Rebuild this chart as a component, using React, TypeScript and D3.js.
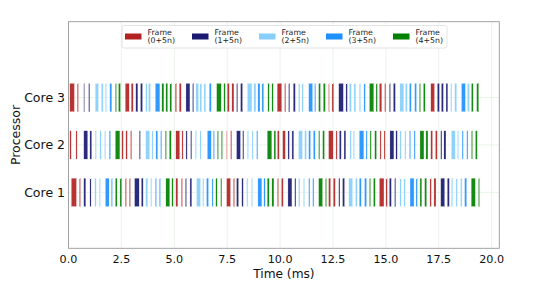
import * as d3 from 'd3';

// [start ms, end ms, frame mod 5]
const core1: [number, number, number][] = [
  [0.13, 0.38, 0], [0.51, 0.57, 0], [0.72, 0.82, 1], [1.01, 1.07, 1], [1.24, 1.31, 2], [1.45, 1.51, 2],
  [1.74, 1.92, 3], [2.02, 2.08, 3], [2.21, 2.3, 4], [2.43, 2.52, 4], [2.68, 2.74, 0], [2.87, 2.93, 0],
  [3.12, 3.34, 1], [3.44, 3.53, 1], [3.65, 3.75, 2], [3.88, 3.94, 2], [4.1, 4.16, 3], [4.29, 4.35, 3],
  [4.6, 4.79, 4], [4.88, 4.95, 4], [5.07, 5.17, 0], [5.33, 5.39, 0], [5.52, 5.58, 1], [5.74, 5.83, 1],
  [6.05, 6.24, 2], [6.34, 6.4, 2], [6.52, 6.62, 3], [6.78, 6.84, 3], [6.96, 7.03, 4], [7.19, 7.25, 4],
  [7.47, 7.66, 0], [7.79, 7.85, 0], [7.94, 8.04, 1], [8.19, 8.26, 1], [8.42, 8.48, 2], [8.64, 8.7, 2],
  [8.95, 9.14, 3], [9.23, 9.3, 3], [9.39, 9.49, 4], [9.61, 9.71, 4], [9.87, 9.93, 0], [10.06, 10.15, 0],
  [10.37, 10.56, 1], [10.69, 10.75, 1], [10.87, 10.94, 2], [11.1, 11.16, 2], [11.35, 11.41, 3], [11.54, 11.6, 3],
  [11.82, 12.01, 4], [12.14, 12.2, 4], [12.29, 12.39, 0], [12.51, 12.61, 0], [12.77, 12.83, 1], [12.95, 13.05, 1],
  [13.24, 13.43, 2], [13.56, 13.65, 2], [13.74, 13.84, 3], [13.99, 14.09, 3], [14.22, 14.28, 4], [14.41, 14.5, 4],
  [14.69, 14.91, 0], [15.0, 15.07, 0], [15.16, 15.26, 1], [15.41, 15.47, 1], [15.66, 15.73, 2], [15.85, 15.92, 2],
  [16.14, 16.33, 3], [16.42, 16.49, 3], [16.61, 16.7, 4], [16.83, 16.93, 4], [17.08, 17.15, 0], [17.27, 17.37, 0],
  [17.59, 17.78, 1], [17.9, 18.0, 1], [18.09, 18.16, 2], [18.31, 18.38, 2], [18.53, 18.6, 2], [18.72, 18.82, 3],
  [19.03, 19.23, 4], [19.37, 19.43, 4],
];

const core2: [number, number, number][] = [
  [0.06, 0.13, 0], [0.35, 0.41, 0], [0.72, 0.91, 1], [1.01, 1.1, 1], [1.26, 1.32, 2], [1.48, 1.55, 2],
  [1.7, 1.76, 2], [1.92, 1.99, 3], [2.21, 2.43, 4], [2.52, 2.59, 0], [2.71, 2.78, 0], [2.93, 2.99, 0],
  [3.34, 3.4, 1], [3.65, 3.84, 2], [3.94, 4.0, 2], [4.13, 4.22, 3], [4.35, 4.41, 3], [4.57, 4.63, 4],
  [4.76, 4.86, 4], [5.07, 5.26, 0], [5.36, 5.42, 0], [5.55, 5.61, 1], [5.77, 5.83, 1], [5.99, 6.05, 2],
  [6.21, 6.27, 2], [6.56, 6.75, 3], [6.84, 6.9, 3], [7.03, 7.09, 4], [7.22, 7.28, 4], [7.47, 7.5, 0],
  [7.66, 7.72, 0], [7.94, 8.13, 1], [8.23, 8.29, 1], [8.45, 8.51, 2], [8.67, 8.73, 2], [8.89, 8.95, 3],
  [9.39, 9.61, 4], [9.71, 9.8, 4], [9.87, 9.96, 0], [10.12, 10.25, 0], [10.37, 10.44, 1], [10.56, 10.65, 1],
  [10.87, 11.06, 2], [11.16, 11.25, 2], [11.35, 11.44, 3], [11.57, 11.66, 3], [11.82, 11.88, 4], [12.01, 12.1, 4],
  [12.29, 12.51, 0], [12.64, 12.7, 0], [12.8, 12.89, 1], [13.02, 13.11, 1], [13.3, 13.37, 2], [13.46, 13.52, 2],
  [13.74, 13.96, 3], [14.06, 14.12, 3], [14.25, 14.31, 4], [14.47, 14.56, 4], [14.72, 14.78, 0], [14.91, 14.97, 0],
  [15.19, 15.38, 1], [15.47, 15.54, 1], [15.66, 15.73, 2], [15.89, 15.95, 2], [16.11, 16.17, 3], [16.33, 16.39, 3],
  [16.61, 16.8, 4], [16.89, 16.99, 4], [17.12, 17.21, 0], [17.34, 17.43, 0], [17.59, 17.65, 1], [17.74, 17.84, 1],
  [18.09, 18.28, 2], [18.38, 18.44, 2], [18.6, 18.66, 3], [18.82, 18.88, 3], [19.04, 19.1, 4], [19.23, 19.32, 4],
];

const core3: [number, number, number][] = [
  [0.06, 0.28, 0], [0.41, 0.47, 0], [0.72, 0.76, 1], [0.95, 1.01, 1], [1.26, 1.42, 2], [1.55, 1.64, 2],
  [1.74, 1.8, 2], [1.95, 2.05, 3], [2.21, 2.27, 4], [2.36, 2.46, 4], [2.68, 2.87, 0], [2.96, 3.06, 0],
  [3.18, 3.28, 1], [3.4, 3.5, 1], [3.65, 3.72, 2], [3.78, 3.88, 2], [4.1, 4.32, 3], [4.41, 4.51, 4],
  [4.6, 4.69, 4], [4.79, 4.88, 4], [5.04, 5.11, 0], [5.23, 5.33, 0], [5.55, 5.74, 1], [5.86, 5.92, 1],
  [6.02, 6.15, 2], [6.21, 6.3, 2], [6.4, 6.49, 2], [6.65, 6.75, 3], [7.0, 7.22, 4], [7.34, 7.41, 4],
  [7.5, 7.6, 0], [7.72, 7.82, 0], [7.94, 8.0, 1], [8.13, 8.23, 1], [8.45, 8.67, 2], [8.76, 8.86, 2],
  [8.95, 9.05, 3], [9.14, 9.23, 3], [9.42, 9.49, 4], [9.61, 9.68, 4], [9.86, 10.08, 0], [10.21, 10.27, 0],
  [10.4, 10.46, 1], [10.62, 10.72, 1], [10.87, 10.94, 2], [11.03, 11.1, 2], [11.35, 11.54, 3], [11.63, 11.69, 3],
  [11.82, 11.91, 4], [12.04, 12.14, 4], [12.29, 12.33, 0], [12.45, 12.54, 0], [12.77, 12.99, 1], [13.11, 13.18, 1],
  [13.27, 13.37, 2], [13.49, 13.58, 2], [13.74, 13.81, 2], [13.96, 14.03, 3], [14.22, 14.43, 4], [14.53, 14.6, 4],
  [14.69, 14.81, 0], [14.94, 15.0, 0], [15.16, 15.22, 1], [15.35, 15.45, 1], [15.66, 15.85, 2], [15.92, 16.01, 2],
  [16.11, 16.2, 3], [16.36, 16.45, 3], [16.58, 16.64, 4], [16.77, 16.86, 4], [17.12, 17.3, 0], [17.43, 17.53, 1],
  [17.62, 17.72, 1], [17.84, 17.93, 1], [18.06, 18.12, 2], [18.25, 18.35, 2], [18.57, 18.76, 3], [18.85, 18.95, 2],
  [19.04, 19.13, 4], [19.29, 19.39, 4],
];

const cores = ['Core 1', 'Core 2', 'Core 3'];
const coreBars = [core1, core2, core3];
const frameLabels = ['(0+5n)', '(1+5n)', '(2+5n)', '(3+5n)', '(4+5n)'];
const frameColors = ['#b22222', '#191970', '#87cefa', '#1e90ff', '#008000'];
const xTicks = [0, 2.5, 5, 7.5, 10, 12.5, 15, 17.5, 20];

const W = 538;
const H = 282;
const m = { left: 68.5, right: 38.7, top: 21.7, bottom: 33.7 };
const font = 'DejaVu Sans, sans-serif';
const gridColor = '#e3f1e3';

export default function App() {
  const x = d3.scaleLinear().domain([0, 20.36]).range([m.left, W - m.right]);
  const y = d3.scaleLinear().domain([-0.18, 4.6]).range([H - m.bottom, m.top]);
  const barH = y(0) - y(0.6);
  const legX = 122;
  const legStep = 67;

  return (
    <svg width={W} height={H} style={{ position: 'absolute', left: 0, top: 0, fontFamily: font }}>
      <rect x={0} y={0} width={W} height={H} fill="white" />
      {xTicks.map((t) => (
        <line key={'gx' + t} x1={x(t)} x2={x(t)} y1={m.top} y2={H - m.bottom} stroke={gridColor} strokeWidth={0.8} />
      ))}
      {cores.map((c, i) => (
        <line key={'gy' + c} x1={m.left} x2={W - m.right} y1={y(i + 1)} y2={y(i + 1)} stroke={gridColor} strokeWidth={0.8} />
      ))}
      {coreBars.map((bars, i) =>
        bars.map((b, j) => (
          <rect
            key={i + '-' + j}
            x={x(b[0])}
            y={y(i + 1) - barH / 2}
            width={x(b[1]) - x(b[0])}
            height={barH}
            fill={frameColors[b[2]]}
            fillOpacity={0.92}
            stroke="white"
            strokeWidth={0.3}
          />
        ))
      )}
      <rect
        x={m.left}
        y={m.top}
        width={W - m.left - m.right}
        height={H - m.top - m.bottom}
        fill="none"
        stroke="#999"
        strokeWidth={0.9}
      />
      {xTicks.map((t) => (
        <text key={'xt' + t} x={x(t)} y={H - m.bottom + 14.5} textAnchor="middle" fontSize={11.2} fill="#111">
          {t.toFixed(1)}
        </text>
      ))}
      {cores.map((c, i) => (
        <text key={'yt' + c} x={m.left - 3.5} y={y(i + 1)} dy="0.35em" textAnchor="end" fontSize={12.5} fill="#111">
          {c}
        </text>
      ))}
      <text x={(m.left + W - m.right) / 2} y={H - 4.5} textAnchor="middle" fontSize={12.2} fill="#111">
        Time (ms)
      </text>
      <text
        transform={`translate(16,${(m.top + H - m.bottom) / 2}) rotate(-90)`}
        textAnchor="middle"
        dy="0.35em"
        fontSize={12.5}
        fill="#111"
      >
        Processor
      </text>
      <rect x={legX} y={25.5} width={325} height={22.5} rx={2} fill="white" fillOpacity={0.85} stroke="#ddd" strokeWidth={0.8} />
      {frameLabels.map((f, i) => (
        <g key={'lg' + f} transform={`translate(${legX + 3 + i * legStep},0)`}>
          <rect x={0} y={33.5} width={16.5} height={6} fill={frameColors[i]} />
          <text x={22.5} y={34.5} fontSize={7.8} fill="#222">
            Frame
          </text>
          <text x={22.5} y={43} fontSize={7.8} fill="#222">
            {f}
          </text>
        </g>
      ))}
    </svg>
  );
}
